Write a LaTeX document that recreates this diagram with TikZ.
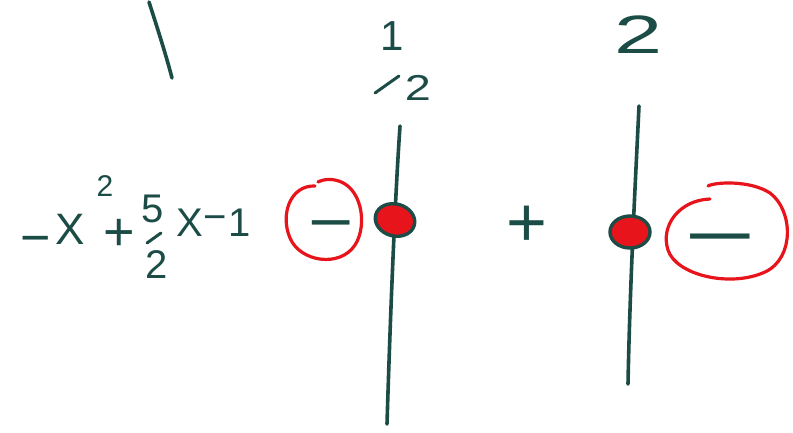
\documentclass[tikz,border=0pt]{standalone}
\usepackage{fontspec}
\setmainfont{Liberation Sans}
\usetikzlibrary{shapes.geometric}
\begin{document}
\begin{tikzpicture}[x=1pt,y=-1pt,
  ink/.style={draw=inkc,line width=3.6pt,line cap=round,line join=round},
  redink/.style={draw=redc,line width=3.2pt,line cap=round},
  txt/.style={text=inkc,inner sep=0pt,font=\fontsize{#1}{#1}\selectfont},
  dotmark/.style={ellipse,draw=inkc,line width=3.4pt,fill=redc,minimum width=40pt,minimum height=32pt,inner sep=0pt}]
\definecolor{inkc}{HTML}{1C4C46}
\definecolor{redc}{HTML}{E8141C}
\useasboundingbox (0,0) rectangle (793,432);
\path[fill=white] (0,0) rectangle (793,432);

% stray stroke top left
\draw[ink] (149,2) .. controls (158,30) and (166,55) .. (172,78);

% expression -x^2 + 5/2 x - 1
\node[txt=52] (m1) at (36,246) {−};
\node[txt=44] (x1) at (70,229) {X};
\node[txt=30] (sq) at (105,186) {2};
\node[txt=54] (pl) at (119,235) {+};
\node[txt=40] (n5) at (153,209) {5};
\draw[ink,line width=3pt] (147,243) -- (161,233);
\node[txt=40] (d2) at (157,265) {2};
\node[txt=40] (x2) at (190,223) {X};
\node[txt=40] (m2) at (215,223) {−};
\node[txt=40] (one) at (240,223) {1};

% left sign: circled minus
\node[txt=62,xscale=1.25] (sgn1) at (331,232) {−};
\draw[redink] (315,186) .. controls (290,185) and (280,215) .. (290,238)
  .. controls (300,262) and (340,268) .. (355,245)
  .. controls (368,225) and (362,185) .. (335,180)
  .. controls (325,178) and (318,182) .. (318,182);

% first critical point 1/2
\node[txt=42] (h1) at (392,36) {1};
\draw[ink,line width=3pt] (375,93) -- (399,76);
\node[txt=36,xscale=1.3] (h2) at (418,88) {2};
\coordinate (t1) at (400,126);
\coordinate (b1) at (387,424);
\draw[ink] (t1) .. controls (397,170) and (392,260) .. (b1);
\node[dotmark,rotate=-15] (p1) at (395,220) {};

% middle sign
\node[txt=70] (sgn2) at (527,226) {+};

% second critical point 2
\node[txt=54,xscale=1.6] (h3) at (639,35) {2};
\coordinate (t2) at (639,106);
\coordinate (b2) at (628,384);
\draw[ink] (t2) .. controls (636,170) and (630,280) .. (b2);
\node[dotmark] (p2) at (630,232) {};

% right sign: circled minus
\node[txt=72,xscale=1.7] (sgn3) at (720,247) {−};
\draw[redink] (710,199) .. controls (680,200) and (660,225) .. (668,250)
  .. controls (676,275) and (730,288) .. (765,272)
  .. controls (795,258) and (793,210) .. (770,193)
  .. controls (750,180) and (715,182) .. (708,186);
\end{tikzpicture}
\end{document}
